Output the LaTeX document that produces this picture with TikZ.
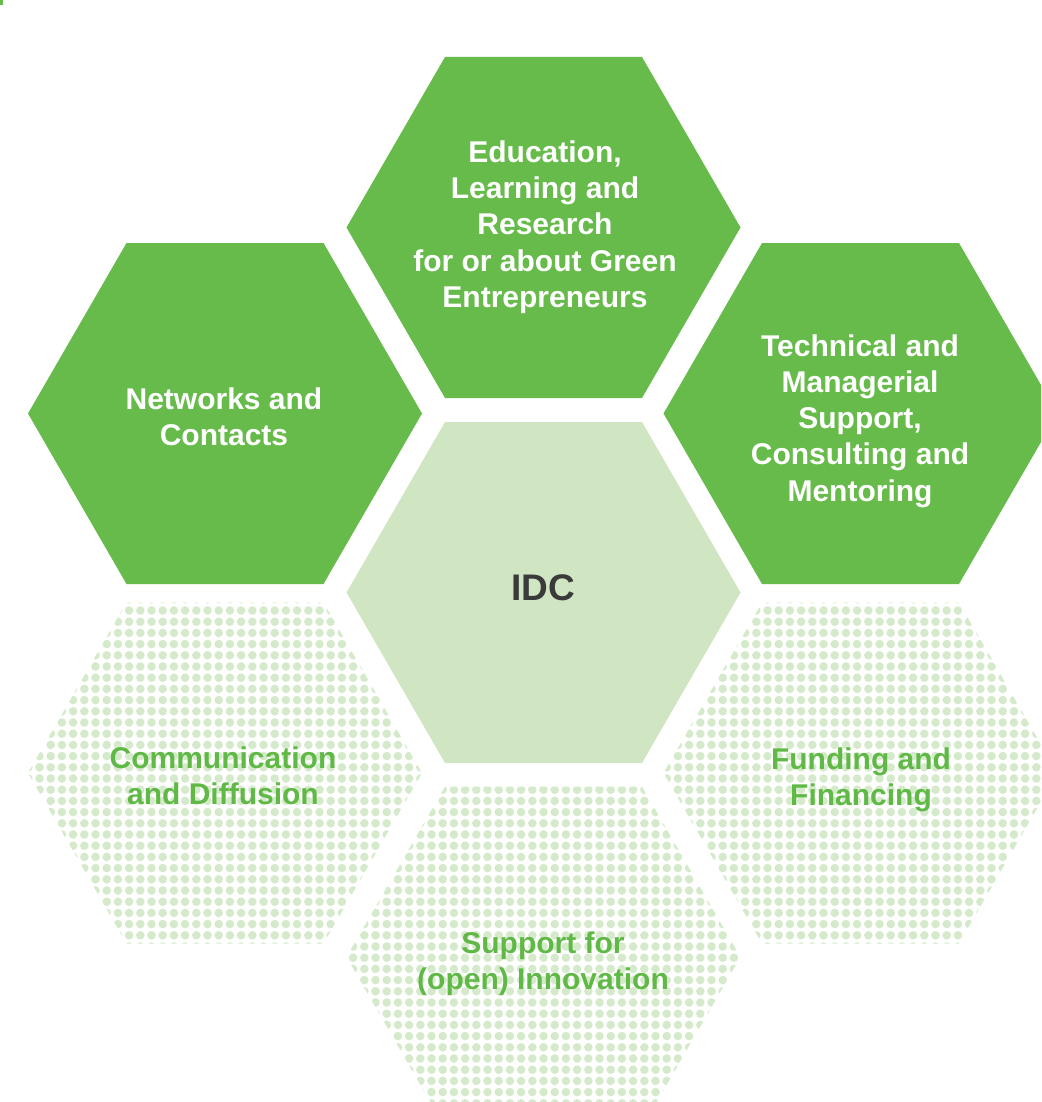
\documentclass[tikz,border=0pt]{standalone}
\usepackage{fontspec}
\setmainfont{Liberation Sans}
\definecolor{hexgreen}{HTML}{66BB4A}
\definecolor{hexlight}{HTML}{D0E6C3}
\definecolor{dotgreen}{HTML}{D5EACB}
\definecolor{labgreen}{HTML}{60B946}
\definecolor{idcgray}{HTML}{3A3A3A}
\def\HR{197}
\def\HH{170.5}
\newcommand\hexpath[2]{({#1+\HR},{#2}) -- ({#1+\HR/2},{#2+\HH}) -- ({#1-\HR/2},{#2+\HH}) -- ({#1-\HR},{#2}) -- ({#1-\HR/2},{#2-\HH}) -- ({#1+\HR/2},{#2-\HH}) -- cycle}
\tikzset{
  whitelab/.style={text=white, align=center, font=\bfseries\fontsize{30}{36.3}\selectfont, inner sep=0pt},
  greenlab/.style={text=labgreen, align=center, font=\bfseries\fontsize{30}{36.3}\selectfont, inner sep=0pt},
  idclab/.style={text=idcgray, align=center, font=\bfseries\fontsize{37}{44}\selectfont, inner sep=0pt}
}
\begin{document}
\begin{tikzpicture}[x=1pt,y=-1pt]
\useasboundingbox (0,0) rectangle (1041,1102);
\clip (0,0) rectangle (1041,1102);
% small mark top-left
\fill[hexgreen] (0,0) rectangle (2.7,5.3);
% dotted hexagons
\begin{scope}
  \clip \hexpath{225}{773} \hexpath{860.5}{773} \hexpath{543.5}{957};
  \foreach \i in {0,...,92} {
    \foreach \j in {0,...,45} {
      \fill[dotgreen] ({5.9+\i*11.2},{599.3+\j*11.2}) circle (4.3pt);
    }
  }
\end{scope}
% solid hexagons
\fill[hexgreen] \hexpath{543.5}{227.5};
\fill[hexgreen] \hexpath{225}{413.5};
\fill[hexgreen] \hexpath{860.5}{413.5};
\fill[hexlight] \hexpath{543.5}{592.5};
% labels
\node[whitelab] (edu) at (545,227) {Education,\\Learning and\\Research\\for or about Green\\Entrepreneurs};
\node[whitelab] (net) at (224,417) {Networks and\\Contacts};
\node[whitelab] (tech) at (860,421) {Technical and\\Managerial\\Support,\\Consulting and\\Mentoring};
\node[idclab] (idc) at (543,588) {IDC};
\node[greenlab] (comm) at (223,776) {Communication\\and Diffusion};
\node[greenlab] (fund) at (861,780) {Funding and\\Financing};
\node[greenlab] (supp) at (543,964) {Support for\\(open) Innovation};
\end{tikzpicture}
\end{document}
